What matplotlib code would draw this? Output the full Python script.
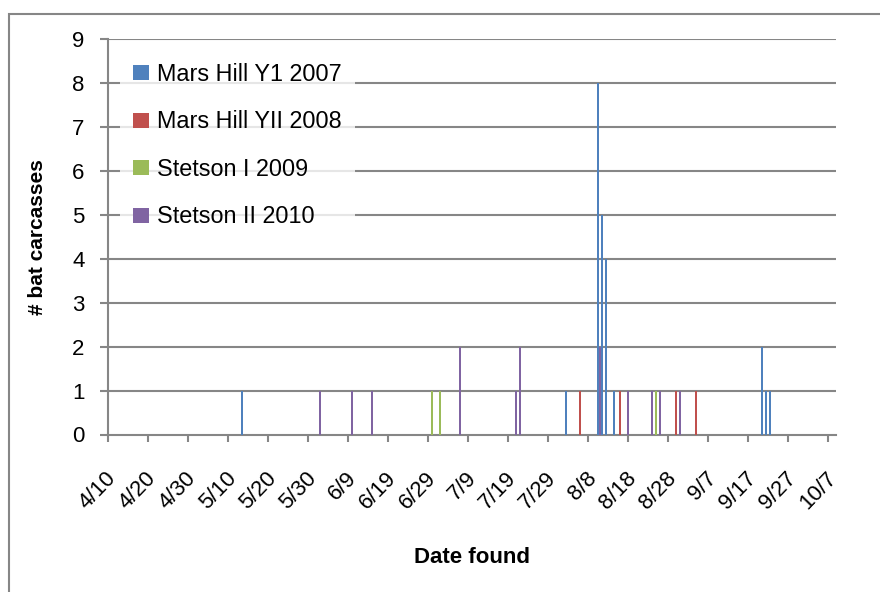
import datetime as dt
import matplotlib
matplotlib.use("Agg")
import matplotlib.pyplot as plt
import matplotlib.transforms as mtrans
from matplotlib.patches import Rectangle

plt.rcParams['font.family'] = ['Liberation Sans', 'DejaVu Sans']

# carcass finds per survey, date (M/D) and count
mh1_dates = ["5/13", "8/2", "8/10", "8/11", "8/12", "8/14", "9/20", "9/21", "9/22"]
mh1_counts = [1, 1, 8, 5, 4, 1, 2, 1, 1]
mh2_dates = ["8/5", "8/15", "8/29", "9/3"]
mh2_counts = [1, 1, 1, 1]
st1_dates = ["6/29", "7/1", "8/24"]
st1_counts = [1, 1, 1]
st2_dates = ["6/1", "6/9", "6/14", "7/6", "7/20", "7/21", "8/10", "8/17", "8/23", "8/25", "8/30"]
st2_counts = [1, 1, 1, 2, 1, 2, 2, 1, 1, 1, 1]

tick_labels = ["4/10", "4/20", "4/30", "5/10", "5/20", "5/30", "6/9", "6/19", "6/29",
               "7/9", "7/19", "7/29", "8/8", "8/18", "8/28", "9/7", "9/17", "9/27", "10/7"]

start = dt.date(2000, 4, 10)


def day_num(s):
    m, d = s.split("/")
    return (dt.date(2000, int(m), int(d)) - start).days


grey = "#868686"
fig = plt.figure(figsize=(8.8, 5.92), dpi=100)
ax = fig.add_axes([108/880, 1 - 434.5/592, (836 - 108)/880, (434.5 - 39)/592])

series = [
    ("Mars Hill Y1 2007", mh1_dates, mh1_counts, "#4F81BD", 0.45),
    ("Mars Hill YII 2008", mh2_dates, mh2_counts, "#C0504D", 0.95),
    ("Stetson I 2009", st1_dates, st1_counts, "#9BBB59", 0.95),
    ("Stetson II 2010", st2_dates, st2_counts, "#8064A2", 0.95),
]
for name, dates, counts, col, off in series:
    xs = [day_num(d) + off for d in dates]
    ax.bar(xs, counts, width=0.5, color=col, label=name, zorder=3)

ax.set_xlim(0, 182)
ax.set_ylim(0, 9)
ax.set_yticks(range(10))
ax.set_xticks([day_num(t) for t in tick_labels])
ax.set_xticklabels(tick_labels, rotation=46, ha='right', va='center', rotation_mode='anchor')
ax.tick_params(axis='y', length=5.8, width=1.5, color=grey, labelsize=16, pad=11)
ax.tick_params(axis='x', length=5, width=1.5, color=grey, labelsize=16, pad=24)
shift = mtrans.ScaledTranslation(5/100, 0, fig.dpi_scale_trans)
for lbl in ax.get_xticklabels():
    lbl.set_transform(lbl.get_transform() + shift)

for y in range(1, 10):
    ax.axhline(y, color=grey, lw=1.5, zorder=1)
for sp in ["top", "right"]:
    ax.spines[sp].set_visible(False)
for sp in ["left", "bottom"]:
    ax.spines[sp].set_color(grey)
    ax.spines[sp].set_linewidth(1.5)

ax.set_ylabel("# bat carcasses", fontsize=15, fontweight='bold')
ax.yaxis.set_label_coords((47 - 108)/728, 0.5)
ax.set_xlabel("Date found", fontsize=16, fontweight='bold')
ax.xaxis.set_label_coords(0.5, (434.5 - 547)/395.5)

leg = ax.legend(loc='upper left', bbox_to_anchor=(120/880, 1 - 50/592), bbox_transform=fig.transFigure,
                fontsize=16.8, handlelength=0.7, handleheight=0.6, handletextpad=0.34,
                labelspacing=1.05, frameon=True, fancybox=False, borderpad=0.55, borderaxespad=0)
leg.get_frame().set_facecolor("white")
leg.get_frame().set_edgecolor("white")
leg.get_frame().set_linewidth(0)
leg.set_zorder(4)

fig.patches.append(Rectangle((9/880, -0.01), 1.0, 1 - 14/592 + 0.01, transform=fig.transFigure,
                             fill=False, edgecolor=grey, lw=1.5))

fig.savefig("out.png", dpi=100)
